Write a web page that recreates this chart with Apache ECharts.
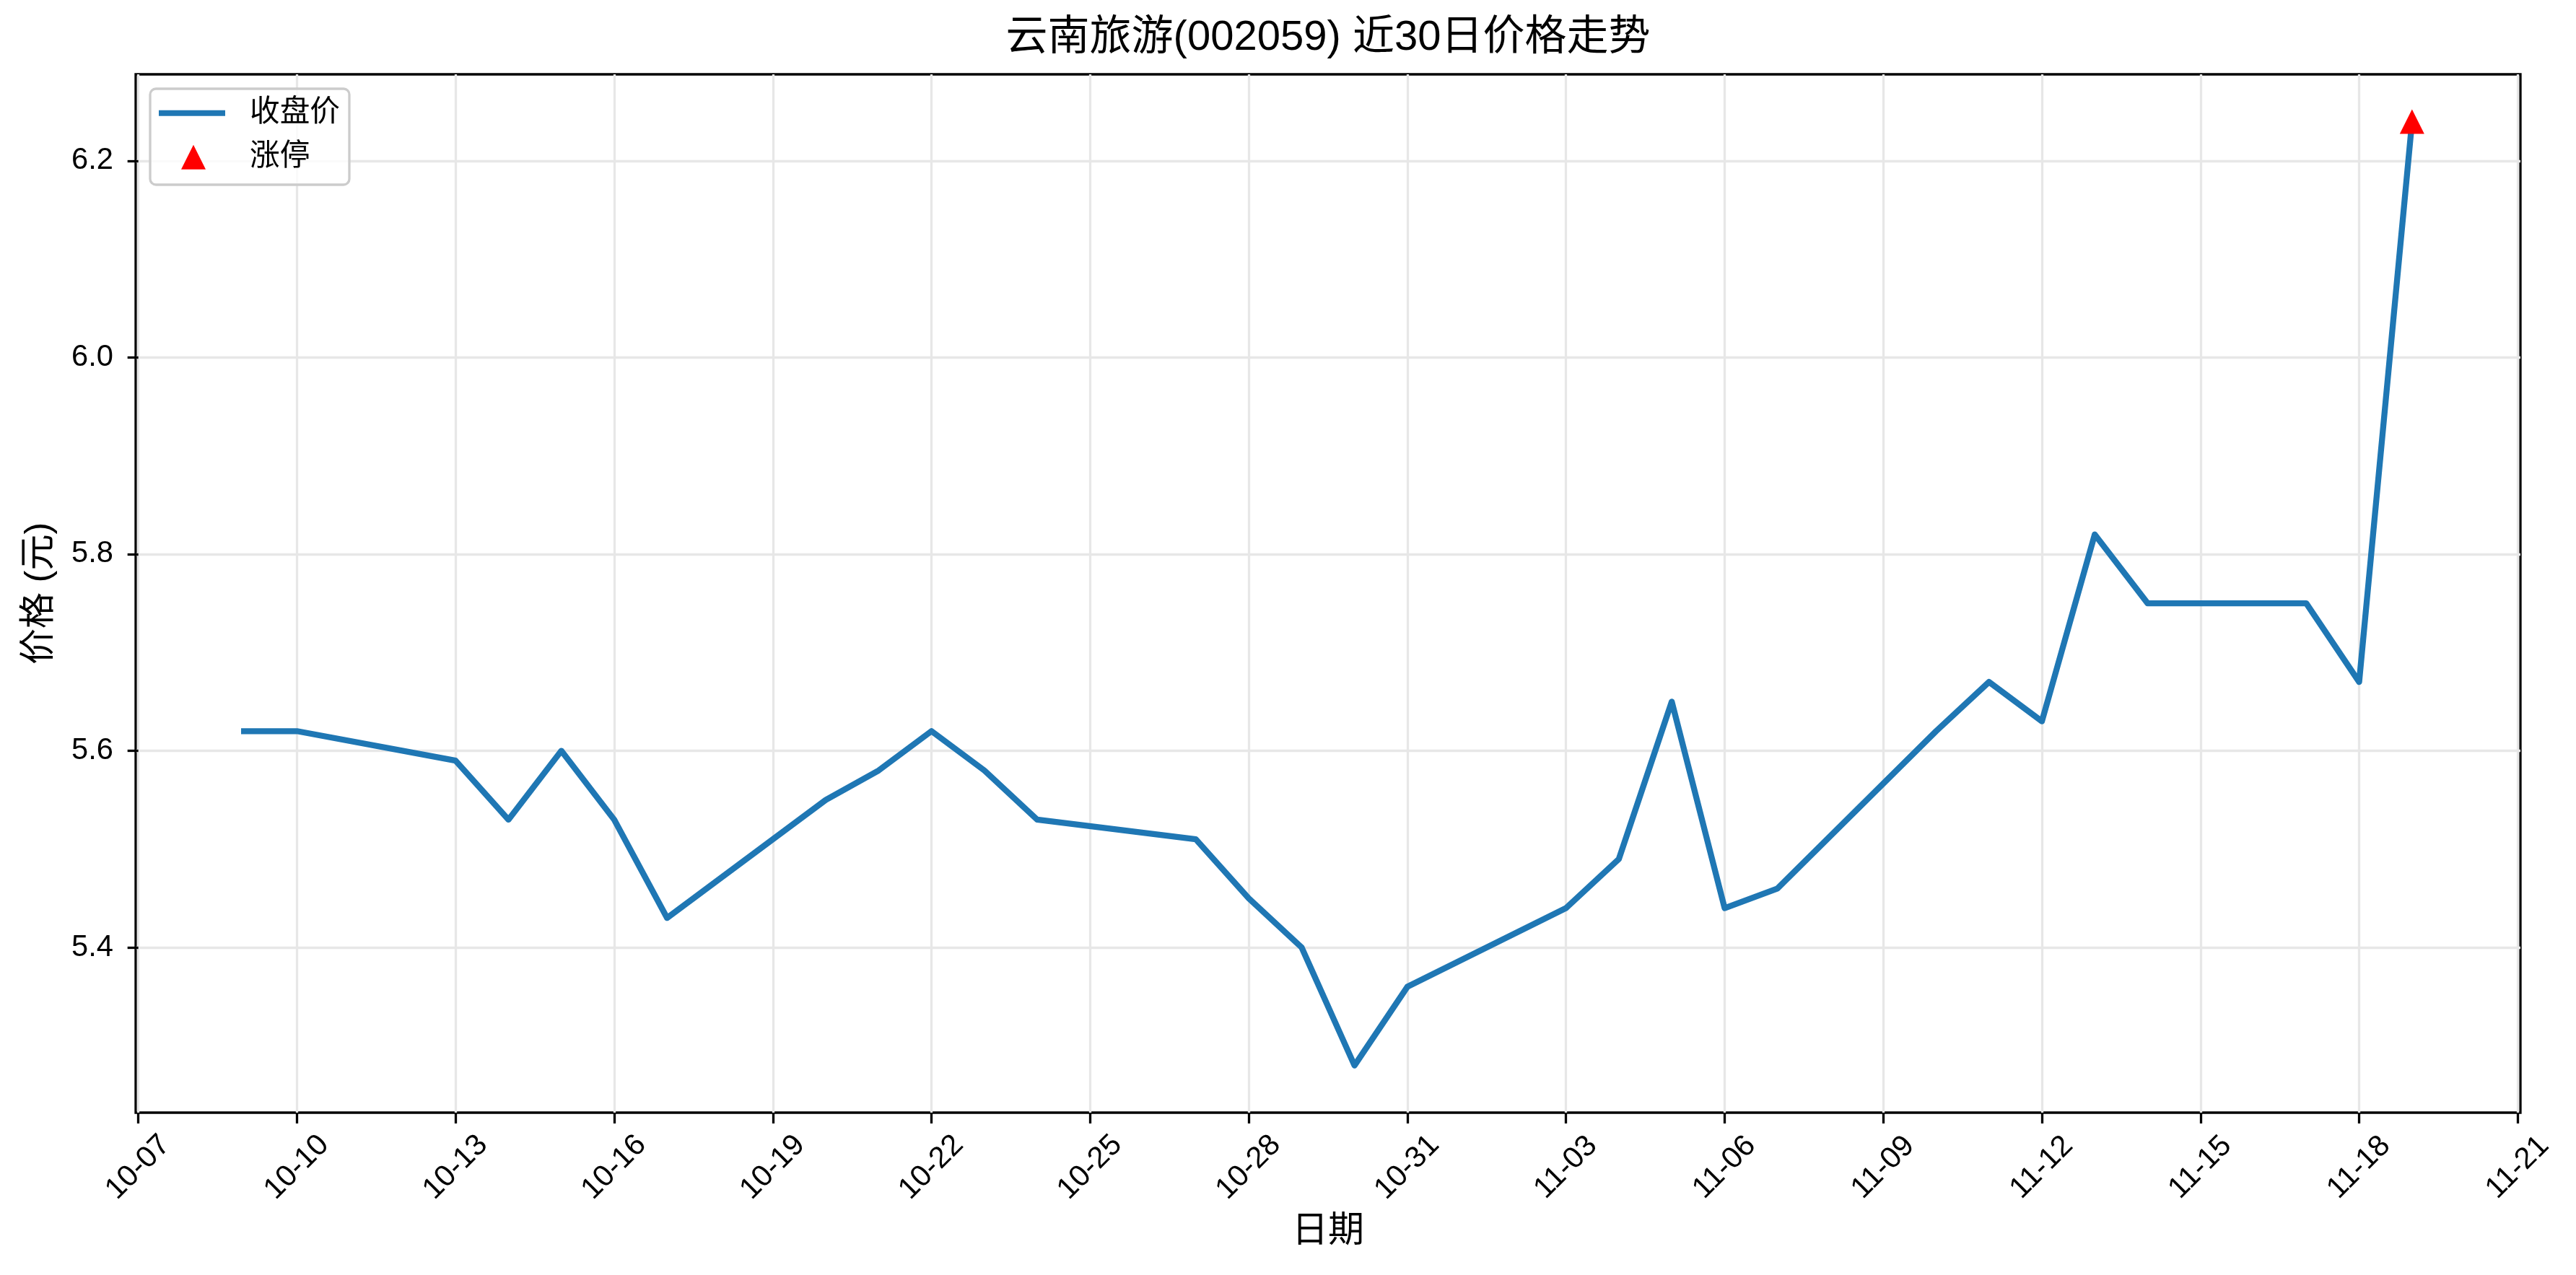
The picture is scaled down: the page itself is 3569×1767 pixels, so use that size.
<!DOCTYPE html>
<html><head><meta charset="utf-8">
<script src="https://cdn.jsdelivr.net/npm/echarts@6/dist/echarts.min.js"></script>
<style>html,body{margin:0;padding:0;background:#fff}#c{width:3569px;height:1767px}</style>
</head><body><div id="c"></div>
<script>
const dates = ['2025-10-09','2025-10-10','2025-10-13','2025-10-14','2025-10-15','2025-10-16','2025-10-17',
  '2025-10-20','2025-10-21','2025-10-22','2025-10-23','2025-10-24','2025-10-27','2025-10-28','2025-10-29',
  '2025-10-30','2025-10-31','2025-11-03','2025-11-04','2025-11-05','2025-11-06','2025-11-07','2025-11-10',
  '2025-11-11','2025-11-12','2025-11-13','2025-11-14','2025-11-17','2025-11-18','2025-11-19'];
const closePrices = [5.62,5.62,5.59,5.53,5.60,5.53,5.43,
  5.55,5.58,5.62,5.58,5.53,5.51,5.45,5.40,
  5.28,5.36,5.44,5.49,5.65,5.44,5.46,5.62,
  5.67,5.63,5.82,5.75,5.75,5.67,6.24];
const limitUpDates = ['2025-11-19'];
const limitUpPrices = [6.24];
const xTickDates = ['2025-10-07','2025-10-10','2025-10-13','2025-10-16','2025-10-19','2025-10-22','2025-10-25',
  '2025-10-28','2025-10-31','2025-11-03','2025-11-06','2025-11-09','2025-11-12','2025-11-15','2025-11-18','2025-11-21'];
const yTickValues = [5.4, 5.6, 5.8, 6.0, 6.2];

const FF = '"Liberation Sans", "Noto Sans CJK SC", sans-serif';
const DAY = 86400000;
function utc(s){ const p = s.split('-').map(Number); return Date.UTC(p[0], p[1]-1, p[2]); }
const ORIGIN = utc(xTickDates[0]);
function dayNum(s){ return Math.round((utc(s) - ORIGIN) / DAY); }
const d0 = dayNum(dates[0]), d1 = dayNum(dates[dates.length-1]);
const xSpan = d1 - d0;
const xMin = d0 - 0.05 * xSpan, xMax = d1 + 0.05 * xSpan;
const allY = closePrices.concat(limitUpPrices);
const yLo = Math.min.apply(null, allY), yHi = Math.max.apply(null, allY);
const yMin = yLo - 0.05 * (yHi - yLo), yMax = yHi + 0.05 * (yHi - yLo);
const xTickValues = xTickDates.map(dayNum);
const xTickText = {};
xTickDates.forEach(function (s) { xTickText[dayNum(s)] = s.slice(5); });

const chart = echarts.init(document.getElementById('c'));
const option = {
  animation: false,
  backgroundColor: '#fff',
  title: {
    text: '云南旅游(002059) 近30日价格走势', left: 1840, top: 24, textAlign: 'center', padding: 0,
    textStyle: { fontSize: 58, fontWeight: 'normal', color: '#000', fontFamily: FF }
  },
  grid: { left: 188, right: 77, top: 103, bottom: 225, show: true, borderColor: '#000', borderWidth: 3.3, backgroundColor: 'transparent' },
  graphic: [{
    type: 'rect', z: 3, shape: { x: 208, y: 123, width: 276, height: 133, r: 8 },
    style: { fill: 'rgba(255,255,255,0.8)', stroke: '#cccccc', lineWidth: 3.3 }
  }],
  legend: [{
    data: [{ name: '收盘价', icon: 'rect' }], left: 220, top: 136, padding: 0, z: 5,
    itemWidth: 92, itemHeight: 8,
    textStyle: { fontSize: 41.7, color: '#000', fontFamily: FF, padding: [0, 0, 0, 29] }
  }, {
    data: [{ name: '涨停', icon: 'triangle' }], left: 251, top: 197, padding: 0, z: 5,
    itemWidth: 34, itemHeight: 34,
    itemStyle: { opacity: 1 },
    textStyle: { fontSize: 41.7, color: '#000', fontFamily: FF, padding: [0, 0, 0, 56] }
  }],
  xAxis: {
    type: 'value', min: xMin, max: xMax,
    name: '日期', nameLocation: 'middle', nameGap: 140,
    nameTextStyle: { fontSize: 50, color: '#000', fontFamily: FF },
    axisLine: { show: false, onZero: false },
    axisTick: { show: true, inside: false, length: 15, lineStyle: { color: '#000', width: 3.3 }, customValues: xTickValues },
    axisLabel: {
      customValues: xTickValues, rotate: 45, align: 'center', verticalAlign: 'middle', margin: 76,
      fontSize: 41.7, color: '#000', fontFamily: FF,
      formatter: function (v) { return xTickText[Math.round(v)] || ''; }
    },
    splitLine: { show: true, lineStyle: { color: '#e7e7e7', width: 3.3 } }
  },
  yAxis: {
    type: 'value', min: yMin, max: yMax,
    name: '价格 (元)', nameLocation: 'middle', nameRotate: 90, nameGap: 108,
    nameTextStyle: { fontSize: 50, color: '#000', fontFamily: FF },
    axisLine: { show: false },
    axisTick: { show: true, inside: false, length: 15, lineStyle: { color: '#000', width: 3.3 }, customValues: yTickValues },
    axisLabel: {
      customValues: yTickValues, margin: 31, fontSize: 41.7, color: '#000', fontFamily: FF,
      formatter: function (v) { return v.toFixed(1); }
    },
    splitLine: { show: true, lineStyle: { color: '#e7e7e7', width: 3.3 } }
  },
  series: [{
    type: 'line', name: '收盘价', z: 3,
    data: dates.map(function (d, i) { return [dayNum(d), closePrices[i]]; }),
    showSymbol: false, symbol: 'none',
    lineStyle: { color: '#1f77b4', width: 8.3, join: 'round', cap: 'square' },
    itemStyle: { color: '#1f77b4' }
  }, {
    type: 'scatter', name: '涨停', z: 6,
    data: limitUpDates.map(function (d, i) { return [dayNum(d), limitUpPrices[i]]; }),
    symbol: 'triangle', symbolSize: 34,
    itemStyle: { color: '#ff0000', opacity: 1 }
  }]
};
chart.setOption(option);
</script>
</body></html>
